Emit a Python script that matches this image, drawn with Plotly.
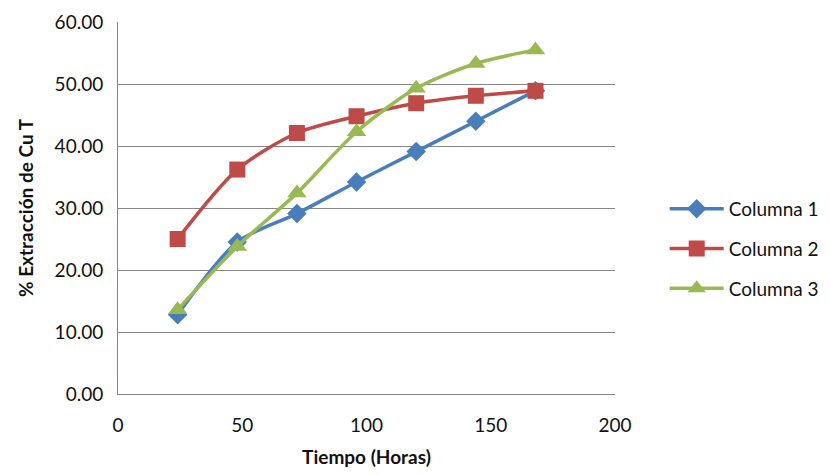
import plotly.graph_objects as go

# Leaching time (hours) and % CuT extraction per column
tiempo = [24, 48, 72, 96, 120, 144, 168]
columna_1 = [12.8, 24.5, 29.1, 34.2, 39.1, 44.0, 48.9]
columna_2 = [25.0, 36.2, 42.1, 44.8, 46.9, 48.1, 48.9]
columna_3 = [13.6, 23.8, 32.4, 42.3, 49.3, 53.3, 55.5]

series = [
    ("Columna 1", columna_1, "#4A7EBB", "diamond", 15),
    ("Columna 2", columna_2, "#BE4B48", "square", 16),
    ("Columna 3", columna_3, "#98B954", "triangle-up", 17),
]

font_family = "Lato, Open Sans, sans-serif"

fig = go.Figure()
for i, (name, vals, color, symbol, size) in enumerate(series):
    fig.add_trace(go.Scatter(
        x=tiempo, y=vals, name=name, mode="lines+markers",
        line=dict(color=color, width=3.5, shape="spline", smoothing=0.8),
        marker=dict(symbol=symbol, size=size, color=color),
        legendgroup=f"g{i}",
    ))

fig.update_layout(
    width=830, height=475,
    margin=dict(l=118, r=215, t=22, b=81, autoexpand=False),
    paper_bgcolor="white", plot_bgcolor="white",
    font=dict(family=font_family, size=19, color="#111111"),
    showlegend=True,
    legend=dict(
        x=1.10, y=0.39, xanchor="left", yanchor="middle",
        itemwidth=54,
        tracegroupgap=12, font=dict(size=19, color="#111111"),
        bgcolor="rgba(0,0,0,0)",
    ),
    xaxis=dict(
        range=[0, 200], tickvals=[0, 50, 100, 150, 200],
        showgrid=False, zeroline=False, automargin=False,
        showline=True, linecolor="#868686", linewidth=1,
        ticks="", ticklabelstandoff=14,
        title=dict(text="<b>Tiempo (Horas)</b>", font=dict(size=19)),
    ),
    yaxis=dict(
        range=[0, 60], tickvals=[0, 10, 20, 30, 40, 50, 60],
        tickformat=".2f", automargin=False,
        showgrid=True, gridcolor="#868686", gridwidth=1,
        zeroline=False,
        showline=True, linecolor="#868686", linewidth=1,
        ticks="", ticklabelstandoff=10,
        title=dict(text="<b>% Extracción de Cu T</b>", font=dict(size=19)),
    ),
)

fig.write_html("out.html")
